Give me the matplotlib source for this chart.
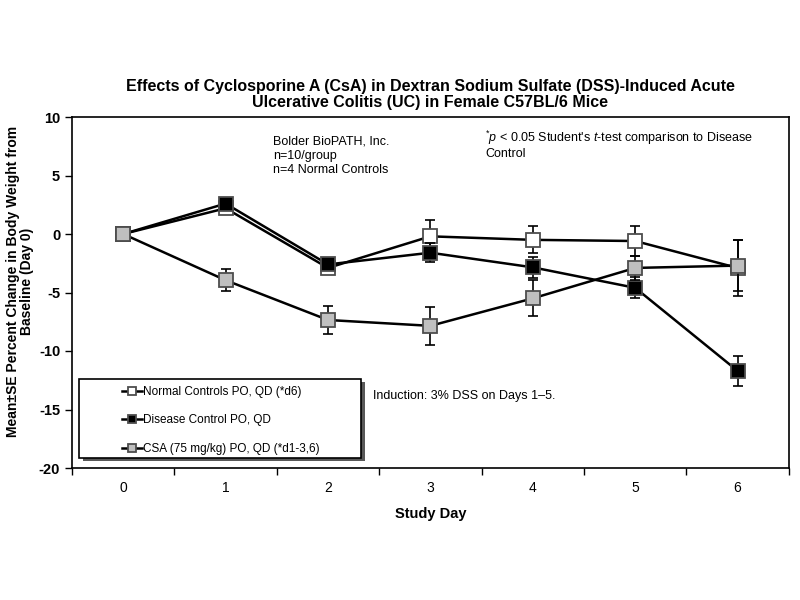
import matplotlib

matplotlib.use("Agg")
import matplotlib.pyplot as plt
from matplotlib.patches import Rectangle

plt.rcParams["font.family"] = ["Liberation Sans", "DejaVu Sans"]
plt.rcParams["mathtext.fontset"] = "custom"
plt.rcParams["mathtext.rm"] = "Liberation Sans"
plt.rcParams["mathtext.it"] = "Liberation Sans:italic"

days = [0, 1, 2, 3, 4, 5, 6]

normal_mean = [0.0, 2.2, -2.9, -0.2, -0.5, -0.6, -2.9]
normal_se = [0.0, 0.4, 0.4, 1.4, 1.15, 1.3, 2.4]

disease_mean = [0.0, 2.6, -2.6, -1.6, -2.85, -4.6, -11.7]
disease_se = [0.0, 0.4, 0.5, 0.8, 0.9, 0.9, 1.3]

csa_mean = [0.0, -3.95, -7.35, -7.85, -5.5, -2.9, -2.7]
csa_se = [0.0, 0.95, 1.2, 1.65, 1.55, 1.0, 2.2]

series = [
    ("Normal Controls PO, QD (*d6)", normal_mean, normal_se, "white"),
    ("Disease Control PO, QD", disease_mean, disease_se, "black"),
    ("CSA (75 mg/kg) PO, QD (*d1-3,6)", csa_mean, csa_se, "#bfbfbf"),
]

fig = plt.figure(figsize=(8, 6), dpi=100)
ax = fig.add_axes([0.09, 0.22, 0.896, 0.585])

handles = []
for i, (label, mean, se, face) in enumerate(series):
    ax.errorbar(days, mean, yerr=se, fmt="none", ecolor="black", elinewidth=1.2,
                capsize=3.5, capthick=1.2, zorder=2 + i)
    (ln,) = ax.plot(days, mean, color="black", linewidth=1.8, marker="s", markersize=10.5,
                    markerfacecolor=face, markeredgecolor="0.3", markeredgewidth=1.3,
                    label=label, zorder=3 + i)
    handles.append(ln)

ax.set_xlim(-0.5, 6.5)
ax.set_ylim(-20, 10)
ax.set_yticks([-20, -15, -10, -5, 0, 5, 10])
ax.set_xticks(days)
ax.set_xticks([d - 0.5 for d in days] + [6.5], minor=True)
ax.tick_params(axis="x", which="major", length=0, labelsize=10, pad=9)
ax.tick_params(axis="x", which="minor", length=5, width=1, direction="out")
ax.tick_params(axis="y", labelsize=10.5, length=5, width=1, direction="out")
ax.set_yticklabels([str(v) for v in ax.get_yticks().astype(int)], fontweight="bold")
for spine in ax.spines.values():
    spine.set_linewidth(1.2)

ax.set_xlabel("Study Day", fontsize=10.5, fontweight="bold", labelpad=9)
fig.text(0.025, 0.531, "Mean±SE Percent Change in Body Weight from\nBaseline (Day 0)",
         rotation=90, ha="center", va="center", fontsize=10, fontweight="bold",
         linespacing=1.0)
ax.set_title("Effects of Cyclosporine A (CsA) in Dextran Sodium Sulfate (DSS)-Induced Acute\n"
             "Ulcerative Colitis (UC) in Female C57BL/6 Mice",
             fontsize=11.5, fontweight="bold", pad=7, linespacing=1.1)

ax.text(0.281, 0.947, "Bolder BioPATH, Inc.\nn=10/group\nn=4 Normal Controls",
        transform=ax.transAxes, fontsize=9, va="top", ha="left", linespacing=1.25)
ax.text(0.576, 0.94, "$^{*}$$p$ < 0.05 Student's $t$-test comparison to Disease",
        transform=ax.transAxes, fontsize=9, va="center", ha="left")
ax.text(0.576, 0.894, "Control", transform=ax.transAxes, fontsize=9, va="center", ha="left")
ax.text(0.42, 0.205, "Induction: 3% DSS on Days 1–5.", transform=ax.transAxes,
        fontsize=9, va="center", ha="left")

# legend box with a drop shadow
bx, by, bw, bh = 0.0098, 0.0285, 0.393, 0.225
ax.add_patch(Rectangle((bx + 0.006, by - 0.009), bw, bh, transform=ax.transAxes,
                       facecolor="0.35", edgecolor="none", zorder=8, clip_on=False))
ax.add_patch(Rectangle((bx, by), bw, bh, transform=ax.transAxes, facecolor="white",
                       edgecolor="black", linewidth=1.2, zorder=9, clip_on=False))
leg = ax.legend(handles=handles, loc="center left", bbox_to_anchor=(0.055, by + bh / 2 - 0.005),
                frameon=False, fontsize=8.5, markerscale=0.55, handlelength=1.7,
                handletextpad=0.05, labelspacing=1.4)
leg.set_zorder(10)

fig.savefig("out.png", dpi=100)
